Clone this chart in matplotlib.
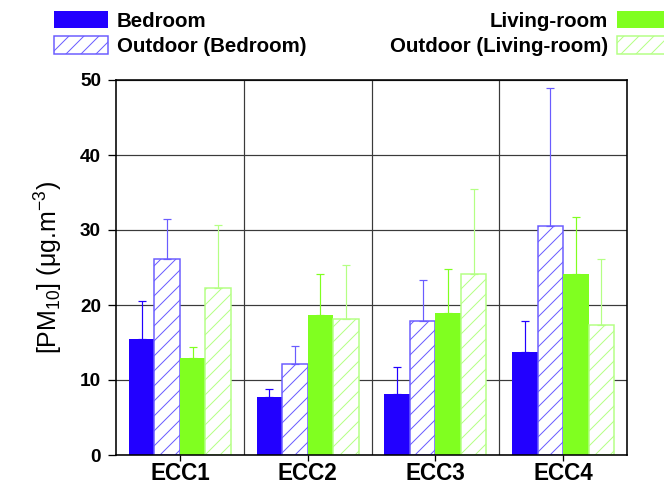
import matplotlib
matplotlib.use("Agg")
import matplotlib.pyplot as plt
import numpy as np

# ---- data -------------------------------------------------------------
categories = ["ECC1", "ECC2", "ECC3", "ECC4"]

bedroom = [15.5, 7.8, 8.2, 13.8]
bedroom_err = [5.0, 1.0, 3.6, 4.1]

outdoor_bedroom = [26.2, 12.1, 17.9, 30.6]
outdoor_bedroom_err = [5.3, 2.5, 5.5, 18.4]

living_room = [13.0, 18.7, 19.0, 24.2]
living_room_err = [1.4, 5.5, 5.8, 7.6]

outdoor_living_room = [22.3, 18.1, 24.1, 17.4]
outdoor_living_room_err = [8.4, 7.3, 11.3, 8.7]

y_ticks = [0, 10, 20, 30, 40, 50]

# ---- style ------------------------------------------------------------
DPI = 90           # also sets the hatch density (one hatch cell = 1 inch)
W, H = 664, 488


def pt(px):
    """pixels -> points at the output dpi"""
    return px * 72.0 / DPI


plt.rcParams["font.family"] = ["Liberation Sans", "DejaVu Sans"]
plt.rcParams["mathtext.fontset"] = "custom"
plt.rcParams["mathtext.rm"] = "Liberation Sans"
plt.rcParams["mathtext.it"] = "Liberation Sans:italic"
plt.rcParams["mathtext.bf"] = "Liberation Sans:bold"
plt.rcParams["mathtext.default"] = "regular"
plt.rcParams["hatch.linewidth"] = pt(1.0)

c_bed = "#2200FF"
c_out_bed = "#6A5CFF"
c_liv = "#80FF20"
c_out_liv = "#B4FF84"

fig = plt.figure(figsize=(W / DPI, H / DPI), dpi=DPI)
ax = fig.add_axes([116 / W, 33 / H, 511 / W, 375 / H])

x = np.arange(1, len(categories) + 1)
width = 0.2

series = [
    (bedroom, bedroom_err, "Bedroom", c_bed, c_bed, None, -0.3),
    (outdoor_bedroom, outdoor_bedroom_err, "Outdoor (Bedroom)", "white", c_out_bed, "//", -0.1),
    (living_room, living_room_err, "Living-room", c_liv, c_liv, None, 0.1),
    (outdoor_living_room, outdoor_living_room_err, "Outdoor (Living-room)", "white", c_out_liv, "//", 0.3),
]

handles = []
for vals, err, label, face, edge, hatch, off in series:
    bars = ax.bar(x + off, vals, width=width, color=face, edgecolor=edge,
                  hatch=hatch, linewidth=pt(1.5) if hatch else 0,
                  zorder=2, label=label)
    ax.errorbar(x + off, vals, yerr=[np.zeros(len(vals)), err], fmt="none",
                ecolor=edge, elinewidth=pt(1.2), capsize=pt(4),
                capthick=pt(1.2), zorder=3)
    handles.append(bars)

# ---- axes -------------------------------------------------------------
ax.set_xlim(0.5, 4.5)
ax.set_ylim(0, 50)
ax.set_yticks(y_ticks)
ax.set_yticklabels([str(v) for v in y_ticks], fontsize=pt(19), fontweight="bold")
ax.set_xticks(x)
ax.set_xticklabels(categories, fontsize=pt(22.5), fontweight="bold")
ax.set_xticks(x[:-1] + 0.5, minor=True)

ax.set_axisbelow(True)
ax.yaxis.grid(True, color="#3a3a3a", linewidth=pt(1.2))
ax.xaxis.grid(True, which="minor", color="#3a3a3a", linewidth=pt(1.2))

ax.tick_params(axis="y", direction="out", length=pt(8), width=pt(1.3),
               pad=pt(7), colors="black")
ax.tick_params(axis="x", which="major", direction="out", length=pt(6),
               width=pt(1.3), pad=pt(1))
ax.tick_params(axis="x", which="minor", length=0)

for sp in ax.spines.values():
    sp.set_linewidth(pt(1.6))
    sp.set_color("black")

ax.set_ylabel("[PM$_{10}$] (μg.m$^{-3}$)", fontsize=pt(25), labelpad=pt(15))

# ---- legends ----------------------------------------------------------
fs_px = 20.5
common = dict(frameon=False, prop={"weight": "bold", "size": pt(fs_px)},
              handlelength=54 / fs_px, handleheight=19 / fs_px,
              handletextpad=9 / fs_px, labelspacing=0.27,
              borderpad=0, borderaxespad=0)

fig.legend(handles[:2], [s[2] for s in series[:2]], loc="upper left",
           bbox_to_anchor=(54 / W, 1 - 11 / H), **common)
fig.legend(handles[2:], [s[2] for s in series[2:]], loc="upper right",
           bbox_to_anchor=(671 / W, 1 - 11 / H), markerfirst=False, **common)

fig.savefig("out.png", dpi=DPI)
